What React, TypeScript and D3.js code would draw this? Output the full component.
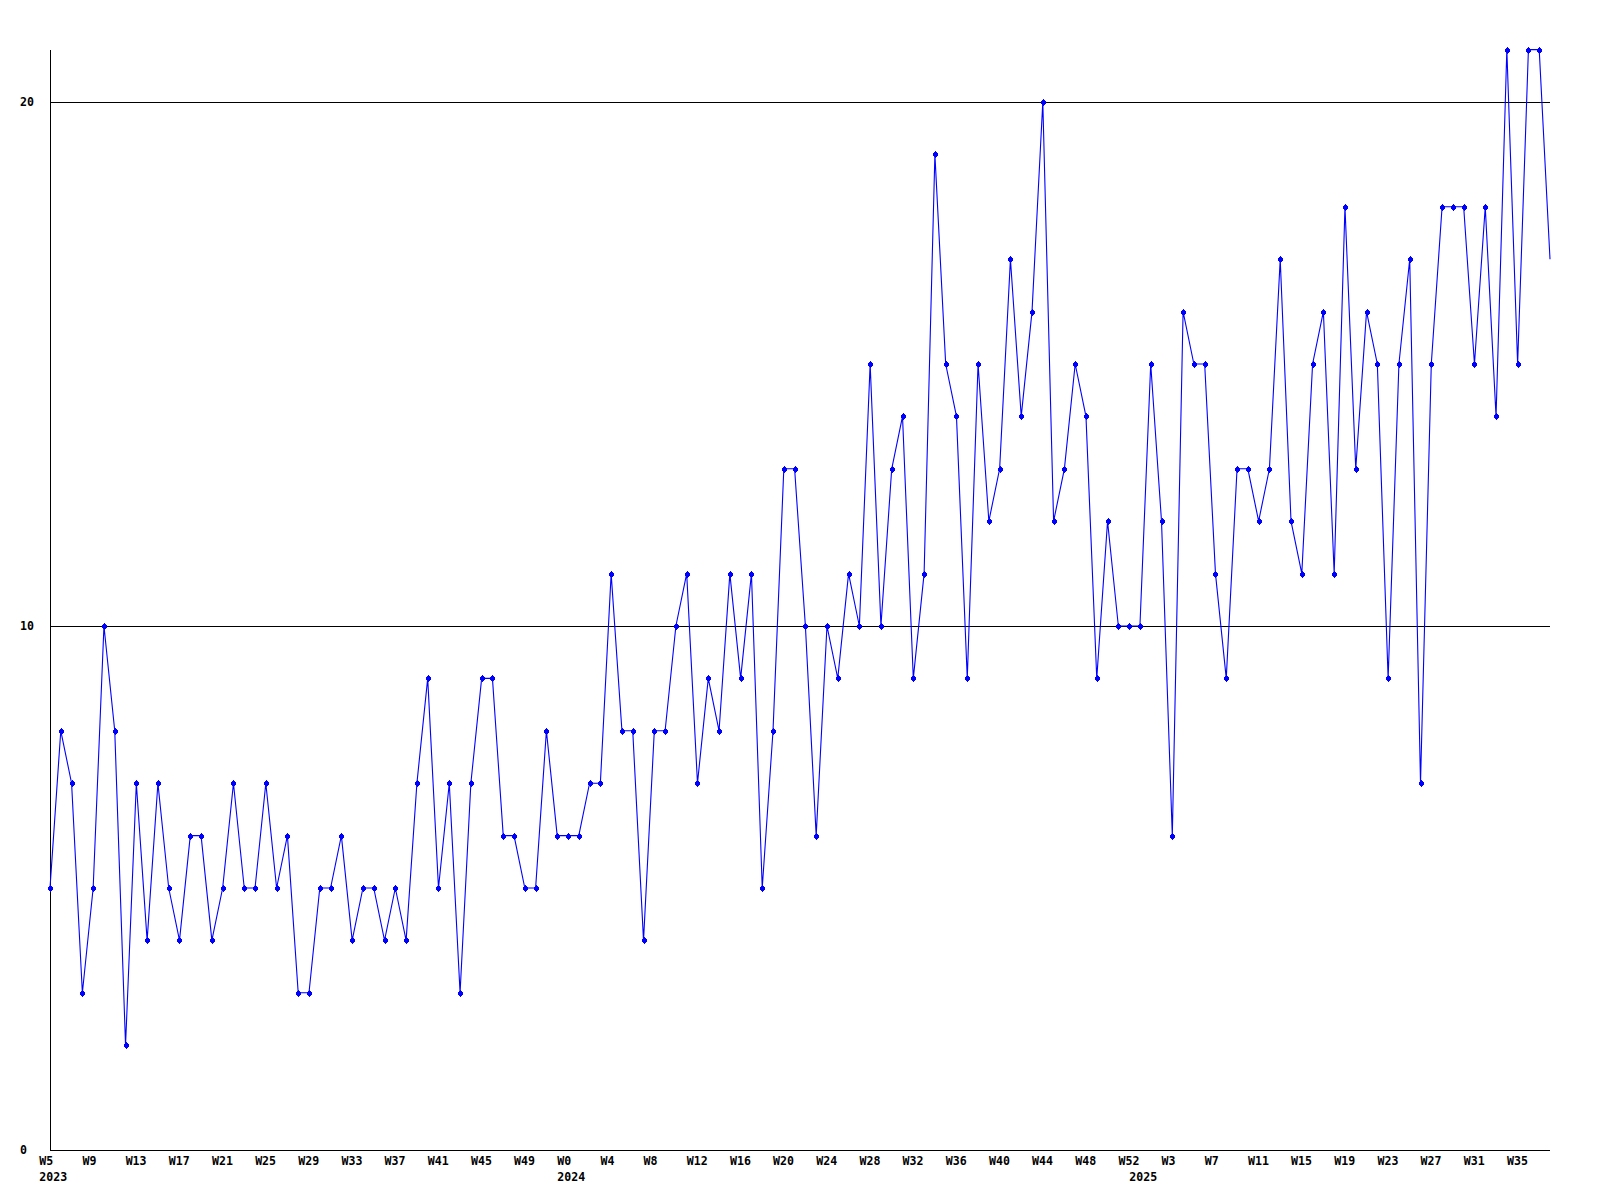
import React from "react";
import * as d3 from "d3";

const values: number[] = [
  5, 8, 7, 3, 5, 10, 8, 2, 7, 4,
  7, 5, 4, 6, 6, 4, 5, 7, 5, 5,
  7, 5, 6, 3, 3, 5, 5, 6, 4, 5,
  5, 4, 5, 4, 7, 9, 5, 7, 3, 7,
  9, 9, 6, 6, 5, 5, 8, 6, 6, 6,
  7, 7, 11, 8, 8, 4, 8, 8, 10, 11,
  7, 9, 8, 11, 9, 11, 5, 8, 13, 13,
  10, 6, 10, 9, 11, 10, 15, 10, 13, 14,
  9, 11, 19, 15, 14, 9, 15, 12, 13, 17,
  14, 16, 20, 12, 13, 15, 14, 9, 12, 10,
  10, 10, 15, 12, 6, 16, 15, 15, 11, 9,
  13, 13, 12, 13, 17, 12, 11, 15, 16, 11,
  18, 13, 16, 15, 9, 15, 17, 7, 15, 18,
  18, 18, 15, 18, 14, 21, 15, 21, 21, 17,
];

const weekTickLabels: string[] = [
  "W5", "W9", "W13", "W17", "W21", "W25", "W29", "W33", "W37", "W41", "W45", "W49",
  "W0", "W4", "W8", "W12", "W16", "W20", "W24", "W28", "W32", "W36", "W40", "W44", "W48", "W52",
  "W3", "W7", "W11", "W15", "W19", "W23", "W27", "W31", "W35",
];
const weekTickStep = 4;

const yearLabels: string[] = ["2023", "2024", "2025"];
const yearStartIndex: number[] = [0, 48, 101];

const yTickValues: number[] = [0, 10, 20];
const yMax = 21;

export default function App() {
  const left = 50;
  const right = 1550;
  const bottom = 1150;
  const top = 49.6;

  const x = d3.scaleLinear().domain([0, values.length - 1]).range([left, right]);
  const y = d3.scaleLinear().domain([0, yMax]).range([bottom, top]);

  const line = d3
    .line<number>()
    .x((_, i) => x(i))
    .y((d) => y(d));

  const font = "'DejaVu Sans Mono', monospace";
  const fs = 11.6;

  return (
    <svg
      width={1600}
      height={1200}
      style={{ position: "absolute", left: 0, top: 0, background: "#fff" }}
    >
      <rect x={0} y={0} width={1600} height={1200} fill="#fff" />
      {yTickValues.map((v) => (
        <line
          key={"g" + v}
          x1={left}
          x2={right}
          y1={Math.round(y(v)) + 0.5}
          y2={Math.round(y(v)) + 0.5}
          stroke="#000"
          strokeWidth={1}
          shapeRendering="crispEdges"
        />
      ))}
      <line
        x1={left + 0.5}
        x2={left + 0.5}
        y1={Math.round(top)}
        y2={bottom + 1}
        stroke="#000"
        strokeWidth={1}
        shapeRendering="crispEdges"
      />
      {yTickValues.map((v) => (
        <text
          key={"yl" + v}
          x={20}
          y={y(v)}
          dy="0.35em"
          fontFamily={font}
          fontWeight="bold"
          fontSize={fs}
          fill="#000"
        >
          {v}
        </text>
      ))}
      {weekTickLabels.map((lab, k) => (
        <text
          key={"wl" + k}
          x={x(k * weekTickStep) - 10.7}
          y={1161}
          dy="0.35em"
          fontFamily={font}
          fontWeight="bold"
          fontSize={fs}
          fill="#000"
        >
          {lab}
        </text>
      ))}
      {yearLabels.map((lab, k) => (
        <text
          key={"yr" + k}
          x={x(yearStartIndex[k]) - 10.7}
          y={1177}
          dy="0.35em"
          fontFamily={font}
          fontWeight="bold"
          fontSize={fs}
          fill="#000"
        >
          {lab}
        </text>
      ))}
      <path d={line(values) || ""} fill="none" stroke="#0000ff" strokeWidth={1.1} />
      {values.slice(0, values.length - 1).map((v, i) => {
        const cx = Math.round(x(i));
        const cy = Math.round(y(v));
        return (
          <path
            key={"m" + i}
            d={`M${cx - 2},${cy - 1}h1v-1h1v-1h1v1h1v1h1v3h-1v1h-1v1h-1v-1h-1v-1h-1Z`}
            fill="#0000ff"
            shapeRendering="crispEdges"
          />
        );
      })}
    </svg>
  );
}
